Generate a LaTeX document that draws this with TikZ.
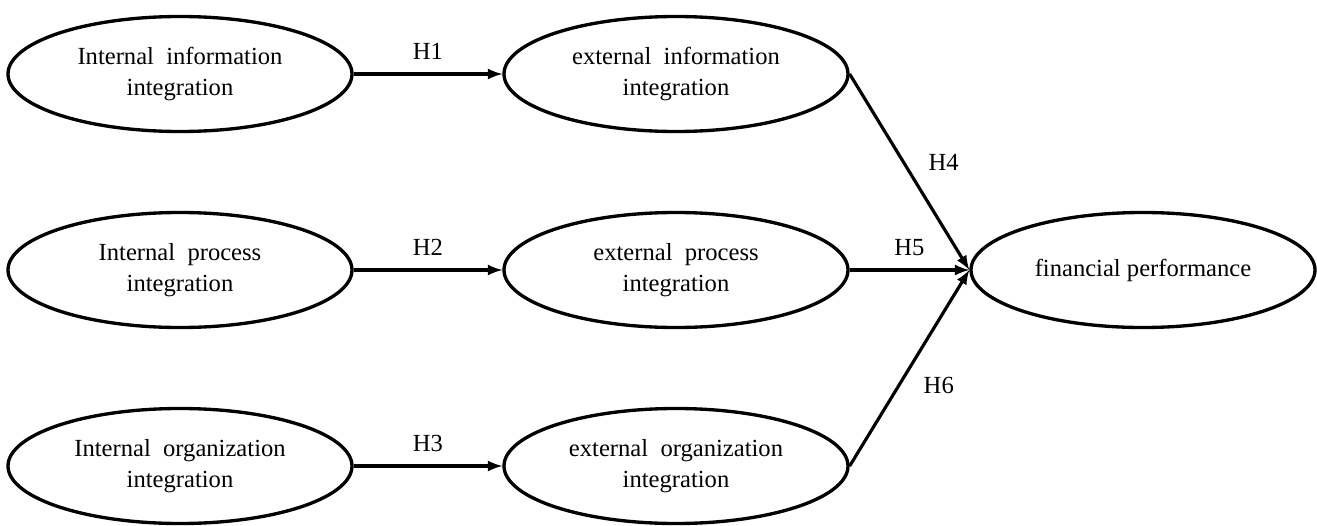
\documentclass[tikz,border=0pt]{standalone}
\usepackage{fontspec}
\setmainfont{Liberation Serif}
\usepackage{tikz}
\usetikzlibrary{shapes.geometric, arrows, positioning}

\begin{document}
\begin{tikzpicture}[
    construct/.style={draw, ellipse, line width=1.9pt, minimum width=6.88cm, minimum height=2.3cm, inner sep=0pt, align=center, font=\fontsize{14}{18}\selectfont},
    arrow/.style={-latex, line width=1.8pt},
    hyp/.style={font=\fontsize{14}{16}\selectfont}
]
    \useasboundingbox (0,0) rectangle (26.34,-10.5);

    % Internal integration
    \node (in1) [construct] at (3.6, -1.48) {Internal\enspace information\\integration};
    \node (in2) [construct] at (3.6, -5.4) {Internal\enspace process\\integration};
    \node (in3) [construct] at (3.6, -9.32) {Internal\enspace organization\\integration};

    % External integration
    \node (ex1) [construct] at (13.52, -1.48) {external\enspace information\\integration};
    \node (ex2) [construct] at (13.52, -5.4) {external\enspace process\\integration};
    \node (ex3) [construct] at (13.52, -9.32) {external\enspace organization\\integration};

    % Outcome
    \node (fp) [construct] at (22.86, -5.4) {financial performance};

    % Hypotheses
    \draw[arrow] (in1) -- (ex1) node[midway, above=4pt, hyp] {H1};
    \draw[arrow] (in2) -- (ex2) node[midway, above=4pt, hyp] {H2};
    \draw[arrow] (in3) -- (ex3) node[midway, above=4pt, hyp] {H3};

    \draw[arrow] (ex1.east) -- (fp.west) node[pos=0.45, right=10pt, hyp] {H4};
    \draw[arrow] (ex2.east) -- (fp.west) node[midway, above=4pt, hyp] {H5};
    \draw[arrow] (ex3.east) -- (fp.west) node[pos=0.41, right=10pt, hyp] {H6};
\end{tikzpicture}
\end{document}
